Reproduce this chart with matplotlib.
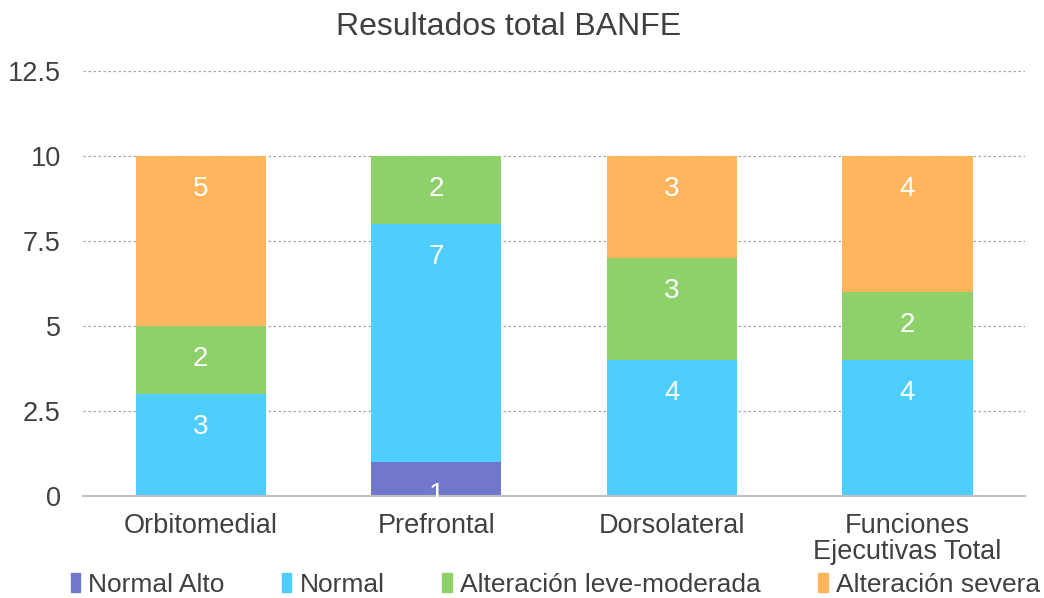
import numpy as np
import matplotlib.pyplot as plt
from matplotlib.patches import Patch

plt.rcParams['font.family'] = ['Liberation Sans', 'DejaVu Sans']

# Datos
categorias = ["Orbitomedial", "Prefrontal", "Dorsolateral", "Funciones\nEjecutivas Total"]
series = ["Normal Alto", "Normal", "Alteración leve-moderada", "Alteración severa"]
normal_alto = [0, 1, 0, 0]
normal = [3, 7, 4, 4]
leve_moderada = [2, 2, 3, 2]
severa = [5, 0, 3, 4]
colores = ["#7177CB", "#4DCEFF", "#8ED16B", "#FFB55C"]

texto = "#404040"

fig = plt.figure(figsize=(10.44, 5.98), dpi=100)
ax = fig.add_axes([0.0795, 0.1706, 0.9025, 0.7104])

x = np.arange(len(categorias))
base = np.zeros(len(categorias))
for nombre, valores, color in zip(series, [normal_alto, normal, leve_moderada, severa], colores):
    valores = np.array(valores, dtype=float)
    ax.bar(x, valores, 0.553, bottom=base, color=color, zorder=2)
    base += valores
    # etiqueta cerca del borde superior del segmento (como Excel)
    for xi, v, tope in zip(x, valores, base):
        if v > 0:
            ax.annotate(str(int(v)), (xi, tope), xytext=(0, -24), textcoords='offset points',
                        ha='center', va='center', color='white', fontsize=20, zorder=4)

ax.set_xlim(-0.5, 3.5)
ax.set_ylim(0, 12.5)
ax.set_yticks([0, 2.5, 5, 7.5, 10, 12.5])
ax.set_yticklabels(["0", "2.5", "5", "7.5", "10", "12.5"])
ax.set_xticks(x)
ax.set_xticklabels(categorias, linespacing=1.0)
ax.tick_params(axis='both', length=0, labelsize=19.5, colors=texto)
ax.tick_params(axis='y', pad=16)
ax.tick_params(axis='x', pad=12)

ax.yaxis.grid(True, linestyle=(0, (2, 2)), color='#A6A6A6', linewidth=0.9, zorder=0)
for lado in ['top', 'right', 'left']:
    ax.spines[lado].set_visible(False)
ax.spines['bottom'].set_color('#BFBFBF')
ax.spines['bottom'].set_linewidth(1.5)
ax.spines['bottom'].set_zorder(3)

fig.text(0.487, 0.955, "Resultados total BANFE", fontsize=23, color=texto, ha='center', va='center')

handles = [Patch(color=c) for c in colores]
fig.legend(handles, series, loc='center left', bbox_to_anchor=(0.05, 0.022), ncol=4,
           frameon=False, fontsize=19, handlelength=0.35, handleheight=0.7,
           handletextpad=0.3, columnspacing=2.2, labelcolor=texto, borderpad=0.2)

fig.savefig("out.png", dpi=100)
